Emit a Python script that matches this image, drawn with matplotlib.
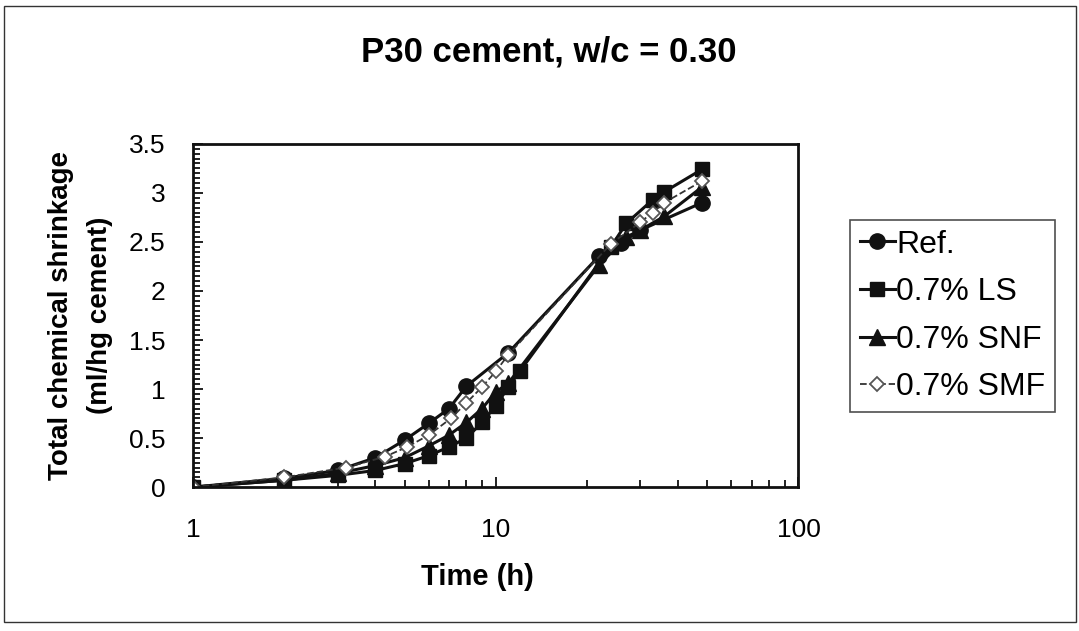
import matplotlib.pyplot as plt
from matplotlib.patches import Rectangle
from matplotlib.ticker import FixedLocator, MultipleLocator, NullFormatter

plt.rcParams['font.family'] = ['Liberation Sans', 'DejaVu Sans']

# Ref.
t_ref = [1, 2, 3, 4, 5, 6, 7, 8, 11, 22, 26, 30, 48]
s_ref = [0, 0.09, 0.17, 0.30, 0.48, 0.65, 0.80, 1.03, 1.37, 2.36, 2.49, 2.62, 2.90]
# 0.7% LS
t_ls = [1, 2, 3, 4, 5, 6, 7, 8, 9, 10, 11, 12, 24, 27, 33, 36, 48]
s_ls = [0, 0.07, 0.12, 0.17, 0.24, 0.32, 0.41, 0.50, 0.66, 0.83, 1.02, 1.18, 2.45, 2.69, 2.93, 3.01, 3.24]
# 0.7% SNF
t_snf = [1, 2, 3, 4, 5, 6, 7, 8, 9, 10, 11, 22, 27, 30, 36, 48]
s_snf = [0, 0.07, 0.14, 0.22, 0.30, 0.42, 0.53, 0.66, 0.80, 0.97, 1.06, 2.27, 2.55, 2.62, 2.76, 3.06]
# 0.7% SMF
t_smf = [1, 2, 3.2, 4.3, 5.1, 6, 7.1, 8, 9, 10, 11, 24, 30, 33, 36, 48]
s_smf = [0, 0.10, 0.20, 0.31, 0.41, 0.53, 0.70, 0.86, 1.02, 1.18, 1.35, 2.48, 2.70, 2.80, 2.90, 3.12]

fig = plt.figure(figsize=(10.79, 6.31), dpi=100)
ax = fig.add_axes([0.179, 0.228, 0.561, 0.544])

ax.plot(t_ref, s_ref, '-o', color='#111111', lw=2.2, ms=11, label='Ref.')
ax.plot(t_ls, s_ls, '-s', color='#111111', lw=2.2, ms=10, label='0.7% LS')
ax.plot(t_snf, s_snf, '-^', color='#111111', lw=2.2, ms=11, label='0.7% SNF')
ax.plot(t_smf, s_smf, '--D', color='#333333', lw=1.3, ms=7, mfc='white', mec='#555555',
        mew=1.3, label='0.7% SMF')

ax.set_xscale('log')
ax.set_xlim(1, 100)
ax.set_ylim(0, 3.5)
ax.xaxis.set_major_locator(FixedLocator([1, 10, 100]))
ax.xaxis.set_major_formatter(plt.FuncFormatter(lambda v, p: '%d' % v))
ax.xaxis.set_minor_locator(FixedLocator([k * d for d in (1, 10) for k in range(2, 10)]))
ax.xaxis.set_minor_formatter(NullFormatter())
ax.yaxis.set_major_locator(MultipleLocator(0.5))
ax.yaxis.set_minor_locator(MultipleLocator(0.05))
ax.yaxis.set_major_formatter(plt.FuncFormatter(lambda v, p: '%g' % v))

ax.tick_params(which='both', direction='in', labelsize=19, width=1.3, color='#111111')
ax.tick_params(which='major', length=7)
ax.tick_params(which='minor', length=5)
ax.tick_params(axis='x', pad=22)
ax.tick_params(axis='y', pad=20)
for sp in ax.spines.values():
    sp.set_linewidth(2)
    sp.set_color('#111111')

ax.set_ylabel('Total chemical shrinkage\n(ml/hg cement)', fontsize=20, fontweight='bold',
              labelpad=11, linespacing=1.65)
fig.text(477 / 1079, 1 - 577 / 631, 'Time (h)', ha='center', va='center',
         fontsize=21, fontweight='bold')
fig.text(0.509, 0.918, 'P30 cement, w/c = 0.30', ha='center', va='center',
         fontsize=25, fontweight='bold')

leg = ax.legend(loc='upper left', bbox_to_anchor=(850 / 1079, 1 - 220 / 631),
                bbox_transform=fig.transFigure, borderaxespad=0, fontsize=23, frameon=True,
                fancybox=False, edgecolor='#222222', handlelength=1.1, handletextpad=0.05,
                labelspacing=0.55, borderpad=0.3)
leg.get_frame().set_linewidth(1.2)

# outer chart border
fig.patches.append(Rectangle((0.004, 0.015), 0.993, 0.975, transform=fig.transFigure,
                             fill=False, ec='#333333', lw=1.0))

fig.savefig('out.png', dpi=100)
